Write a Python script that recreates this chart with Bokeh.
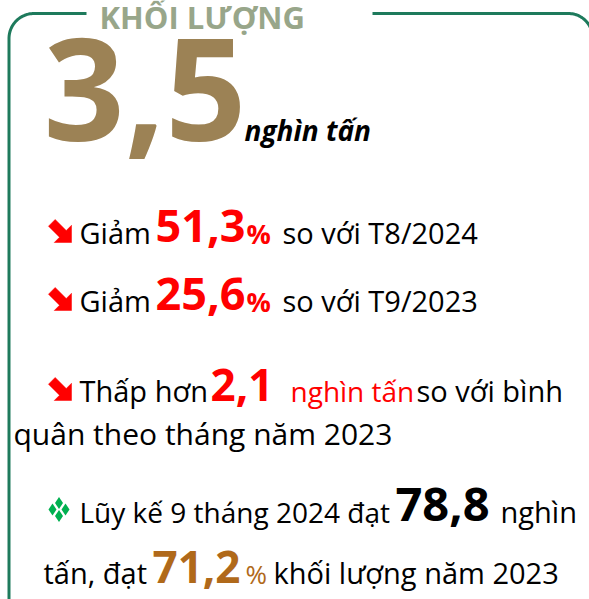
import numpy as np
from bokeh.plotting import figure
from bokeh.models import Range1d
from bokeh.core.properties import value
from bokeh.embed import file_html
from bokeh.resources import INLINE

# ---- content ----
title = "KHỐI LƯỢNG"
volume = "3,5"
unit = "nghìn tấn"
cmp_labels = ["Giảm", "Giảm"]
cmp_values = ["51,3", "25,6"]
cmp_refs = ["so với T8/2024", "so với T9/2023"]
avg_prefix = "Thấp hơn"
avg_value = "2,1"
avg_unit = "nghìn tấn"
avg_rest = ["so với bình", "quân theo tháng năm 2023"]
ytd_prefix = "Lũy kế 9 tháng 2024 đạt"
ytd_value = "78,8"
ytd_unit = ["nghìn", "tấn, đạt"]
ytd_share = "71,2"
ytd_rest = "khối lượng năm 2023"

FONT = "Open Sans"
GREEN = "#1E7A5C"
TITLE_C = "#98A68A"
BIG_C = "#9C8255"
RED = "#FF0000"
BROWN = "#B0691A"
DIAM = "#00B050"

W, H = 589, 599
p = figure(width=W, height=H, output_backend="svg", toolbar_location=None,
           x_range=Range1d(0, W), y_range=Range1d(H, 0),
           min_border=0, outline_line_color=None)
p.axis.visible = False
p.grid.visible = False
p.background_fill_color = "white"

K = 0.38  # baseline correction for svg text


def txt(s, x, base, size, color="#000000", style="normal"):
    p.text(x=[x], y=[base - K * size], text=[s], text_font=value(FONT),
           text_font_size=f"{size}px", text_color=color, text_font_style=style,
           text_baseline="alphabetic", text_align="left")


# ---- frame ----
r = 25
lx, ty = 8.5, 13
th = np.linspace(np.pi, 1.5 * np.pi, 30)
xs = [lx, lx] + list(lx + r + r * np.cos(th)) + [86]
ys = [640, ty + r] + list(ty + r + r * np.sin(th)) + [ty]
p.line(xs, ys, line_color=GREEN, line_width=3)
r2 = 24
th2 = np.linspace(-0.5 * np.pi, 0, 30)
cx = 592 - r2
xs2 = [372, cx] + list(cx + r2 * np.cos(th2))
ys2 = [ty, ty] + list(ty + r2 + r2 * np.sin(th2))
p.line(xs2, ys2, line_color=GREEN, line_width=3)

# ---- header ----
txt(title, 99, 28, 31, TITLE_C, "bold")
txt(volume, 43, 143, 142, BIG_C, "bold")
txt(unit, 244, 140, 28, "#000000", "bold italic")


# ---- icons ----
def arrow(x0, y0, s):
    shape = [(1, 0.28), (1, 1), (0.28, 1), (0.5, 0.78), (0.04, 0.32), (0.32, 0.04), (0.78, 0.5)]
    p.patch([x0 + s * a for a, b in shape], [y0 + s * b for a, b in shape],
            fill_color=RED, line_color=RED, line_width=0.5)


def diamond(cx, cy):
    d = 6.5
    p.scatter([cx, cx + d, cx, cx - d], [cy - d, cy, cy + d, cy], marker="diamond",
              size=12, fill_color=DIAM, line_color=None)


# ---- comparison lines ----
base = [243, 311]
for i in range(2):
    b = base[i]
    arrow(47, b - 25, 24)
    txt(cmp_labels[i], 79, b, 29)
    txt(cmp_values[i], 155, b, 45, RED, "bold")
    txt("%", 246, b, 27, RED, "bold")
    txt(cmp_refs[i], 282, b, 29)

# ---- average line ----
b = 401
arrow(47, b - 25, 24)
txt(avg_prefix, 79, b, 29)
txt(avg_value, 210, b, 44, RED, "bold")
txt(avg_unit, 290, b, 28, RED)
txt(avg_rest[0], 416, b, 29)
txt(avg_rest[1], 13, 444, 30)

# ---- year-to-date ----
b = 522
diamond(58.5, 509)
txt(ytd_prefix, 79, b, 28)
txt(ytd_value, 395, b, 47, "#000000", "bold")
txt(ytd_unit[0], 500, b, 29)
txt(ytd_unit[1], 43, 583, 29)
txt(ytd_share, 152, 583, 44, BROWN, "bold")
txt("%", 245, 583, 26, BROWN)
txt(ytd_rest, 273, 583, 29)

open("out.html", "w").write(file_html(p, INLINE))
